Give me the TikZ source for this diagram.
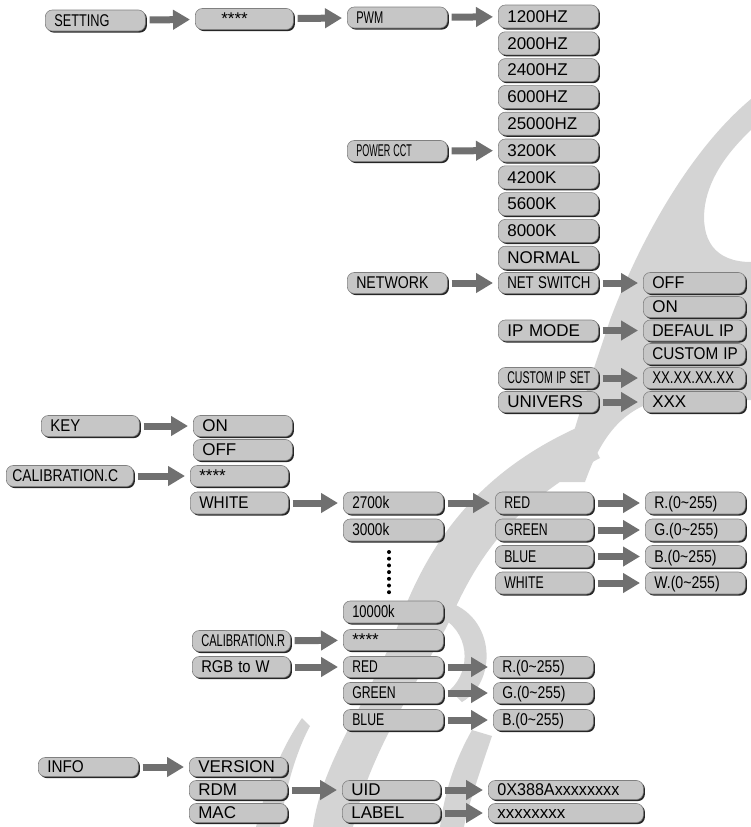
\documentclass[tikz,border=0pt]{standalone}
\usepackage{fontspec}
\setmainfont{Liberation Sans}
\usepackage{graphicx}
\usetikzlibrary{arrows.meta,shadows}
% horizontal squeeze for the condensed labels
\newcommand{\slim}[2]{\scalebox{#1}[1]{#2}}

\begin{document}
\begin{tikzpicture}[
    x=1pt, y=-1pt,
    font=\fontsize{17}{19}\selectfont,
    menu/.style={anchor=west, fill=boxgray, draw=black!50, line width=0.6pt, rounded corners=7pt,
        minimum height=21pt, inner ysep=0pt, inner xsep=9pt, text width=#1, align=left,
        text height=12.5pt, text depth=1pt,
        drop shadow={shadow xshift=1.6pt, shadow yshift=-1.6pt, fill=black!85, opacity=1}},
    menu/.default=82pt,
    tall/.style={minimum height=23pt},
    low/.style={minimum height=19pt},
    flow/.style={draw=arrowgray, line width=7pt, -{Triangle[length=17pt, width=19pt]}, shorten <=4pt, shorten >=5pt},
    watermark/.style={fill=markgray, draw=none}
]
\definecolor{boxgray}{RGB}{198,198,198}
\definecolor{arrowgray}{RGB}{112,112,112}
\definecolor{markgray}{RGB}{212,212,212}
\useasboundingbox (0,0) rectangle (751,827);

% watermark
\fill[watermark] (751,99) .. controls (690,150) and (640,240) .. (610,320)
    .. controls (590,380) and (570,440) .. (560,482) -- (585,482)
    .. controls (600,440) and (620,410) .. (660,400) -- (751,400) -- (751,262)
    .. controls (715,262) and (700,240) .. (705,205) .. controls (710,175) and (730,150) .. (751,130) -- cycle;
\fill[watermark] (583,425) .. controls (480,470) and (430,540) .. (400,620)
    .. controls (370,700) and (322,760) .. (313,827) -- (353,827)
    .. controls (370,750) and (420,680) .. (450,620) .. controls (480,550) and (520,500) .. (600,458) -- cycle;
\fill[watermark] (440,600) .. controls (495,610) and (500,680) .. (462,702) -- (450,690)
    .. controls (472,670) and (470,630) .. (438,616) -- cycle;
\fill[watermark] (302,718) .. controls (280,750) and (265,790) .. (256,827) -- (280,827)
    .. controls (285,790) and (296,752) .. (310,726) -- cycle;
\fill[watermark] (472,730) -- (492,736) .. controls (477,780) and (467,810) .. (464,827)
    -- (440,827) .. controls (445,790) and (455,760) .. (472,730) -- cycle;

% setting branch
\node[menu] (setting) at (45,20.5) {\slim{0.75}{SETTING}};
\node[menu=80pt] (pass) at (195,19) {\hspace*{17pt}****};
\node[menu] (pwm) at (347,17.5) {\slim{0.65}{PWM}};
\node[menu, tall] (hz1200) at (498,16.5) {1200HZ};
\node[menu, tall] (hz2000) at (498,43.3) {2000HZ};
\node[menu, tall] (hz2400) at (498,70.1) {2400HZ};
\node[menu, tall] (hz6000) at (498,96.9) {6000HZ};
\node[menu, tall] (hz25000) at (498,123.7) {25000HZ};
\node[menu] (powercct) at (347,151) {\slim{0.53}{POWER CCT}};
\node[menu, tall] (k3200) at (498,150.5) {3200K};
\node[menu, tall] (k4200) at (498,177.3) {4200K};
\node[menu, tall] (k5600) at (498,204.1) {5600K};
\node[menu, tall] (k8000) at (498,230.9) {8000K};
\node[menu, tall] (normal) at (498,257.7) {NORMAL};
\node[menu] (network) at (347,283) {\slim{0.83}{NETWORK}};
\node[menu] (netswitch) at (498,283) {\slim{0.78}{NET SWITCH}};
\node[menu] (ipmode) at (498,330.5) {IP MODE};
\node[menu] (customipset) at (498,378) {\slim{0.62}{CUSTOM IP SET}};
\node[menu] (univers) at (498,402) {UNIVERS};
\node[menu=84pt] (off) at (643,283) {\slim{0.94}{OFF}};
\node[menu=84pt] (on) at (643,307) {ON};
\node[menu=84pt] (defaulip) at (643,330.5) {\slim{0.93}{DEFAUL IP}};
\node[menu=84pt] (customip) at (643,354) {\slim{0.9}{CUSTOM IP}};
\node[menu=84pt] (ipvalue) at (643,378) {\slim{0.78}{XX.XX.XX.XX}};
\node[menu=84pt] (univalue) at (643,402) {XXX};
\draw[flow] (setting) -- (pass);
\draw[flow] (pass) -- (pwm);
\draw[flow] (pwm) -- (hz1200);
\draw[flow] (powercct) -- (k3200);
\draw[flow] (network) -- (netswitch);
\draw[flow] (netswitch) -- (off);
\draw[flow] (ipmode) -- (defaulip);
\draw[flow] (customipset) -- (ipvalue);
\draw[flow] (univers) -- (univalue);

% key and calibration branch
\node[menu=80pt] (key) at (41,426) {\slim{0.88}{KEY}};
\node[menu=81pt] (keyon) at (193,426) {ON};
\node[menu=81pt] (keyoff) at (193,450) {OFF};
\node[menu=115pt, inner xsep=6pt] (calc) at (6,476) {\slim{0.82}{CALIBRATION.C}};
\node[menu=80pt] (calpass) at (190,476) {****};
\node[menu=80pt, minimum height=22pt] (calwhite) at (190,503) {\slim{0.9}{WHITE}};
\node[menu, minimum height=22pt] (k2700) at (343,503) {\slim{0.8}{2700k}};
\node[menu, minimum height=22pt] (k3000) at (343,530) {\slim{0.8}{3000k}};
\node[menu, minimum height=22pt] (k10000) at (343,612) {\slim{0.76}{10000k}};
\node[menu=80pt, minimum height=22pt] (wred) at (495,503) {\slim{0.72}{RED}};
\node[menu=80pt, minimum height=22pt] (wgreen) at (495,530) {\slim{0.72}{GREEN}};
\node[menu=80pt, minimum height=22pt] (wblue) at (495,556.5) {\slim{0.72}{BLUE}};
\node[menu=80pt, minimum height=22pt] (wwhite) at (495,583) {\slim{0.72}{WHITE}};
\node[menu, minimum height=22pt] (rval) at (645,503) {\slim{0.83}{R.(0\textasciitilde255)}};
\node[menu, minimum height=22pt] (gval) at (645,530) {\slim{0.83}{G.(0\textasciitilde255)}};
\node[menu, minimum height=22pt] (bval) at (645,556.5) {\slim{0.83}{B.(0\textasciitilde255)}};
\node[menu, minimum height=22pt] (wval) at (645,583) {\slim{0.83}{W.(0\textasciitilde255)}};
\foreach \i in {0,...,6}
    \fill[black] (389,552+\i*6.7) circle (2pt);
\node[menu=80pt] (calr) at (192,641) {\slim{0.65}{CALIBRATION.R}};
\node[menu] (rpass) at (343,640) {****};
\node[menu=80pt] (rgbw) at (192,667) {\slim{0.87}{RGB to W}};
\node[menu] (rred) at (343,667) {\slim{0.71}{RED}};
\node[menu] (rgreen) at (343,693) {\slim{0.72}{GREEN}};
\node[menu] (rblue) at (343,720) {\slim{0.72}{BLUE}};
\node[menu] (rrval) at (493,667) {\slim{0.82}{R.(0\textasciitilde255)}};
\node[menu] (rgval) at (493,693) {\slim{0.82}{G.(0\textasciitilde255)}};
\node[menu] (rbval) at (493,720) {\slim{0.82}{B.(0\textasciitilde255)}};
\draw[flow] (key) -- (keyon);
\draw[flow] (calc) -- (calpass);
\draw[flow] (calwhite) -- (k2700);
\draw[flow] (k2700) -- (wred);
\draw[flow] (wred) -- (rval);
\draw[flow] (wgreen) -- (gval);
\draw[flow] (wblue) -- (bval);
\draw[flow] (wwhite) -- (wval);
\draw[flow] (calr) -- (rpass);
\draw[flow] (rgbw) -- (rred);
\draw[flow] (rred) -- (rrval);
\draw[flow] (rgreen) -- (rgval);
\draw[flow] (rblue) -- (rbval);

% info branch
\node[menu, low] (info) at (38,767) {\slim{0.9}{INFO}};
\node[menu=80pt, low] (version) at (189,767) {VERSION};
\node[menu=80pt, low] (rdm) at (189,790) {RDM};
\node[menu=80pt, low] (mac) at (189,813) {MAC};
\node[menu=80pt, low] (uid) at (342,790) {UID};
\node[menu=80pt, low] (label) at (342,813) {LABEL};
\node[menu=137pt, low] (uidval) at (488,790) {\slim{0.95}{0X388Axxxxxxxx}};
\node[menu=137pt, low] (labelval) at (488,813) {xxxxxxxx};
\draw[flow] (info) -- (version);
\draw[flow] (rdm) -- (uid);
\draw[flow] (uid) -- (uidval);
\draw[flow] (label) -- (labelval);
\end{tikzpicture}
\end{document}
